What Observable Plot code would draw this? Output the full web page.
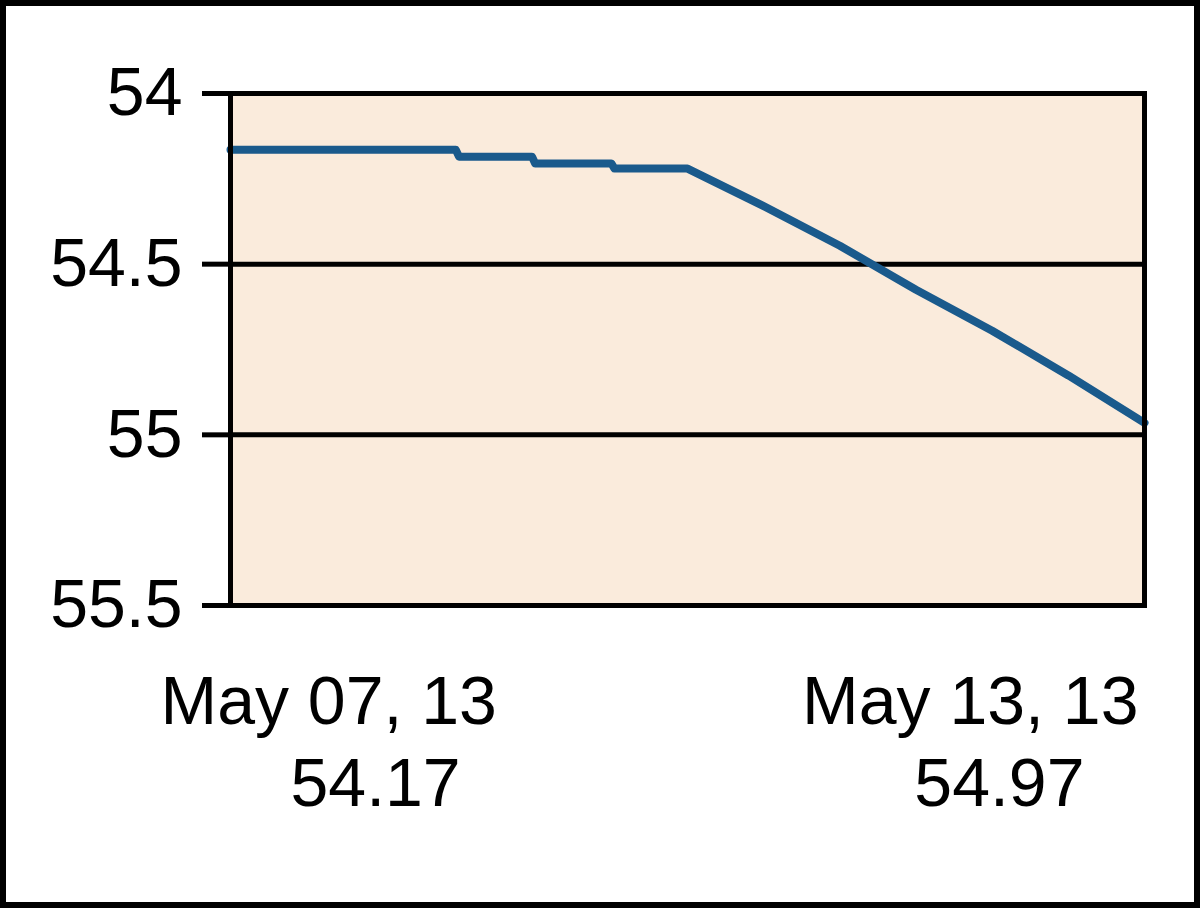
<!DOCTYPE html>
<html>
<head>
<meta charset="utf-8">
<script src="https://cdn.jsdelivr.net/npm/d3@7"></script>
<script src="https://cdn.jsdelivr.net/npm/@observablehq/plot@0.6"></script>
<style>
  html, body { margin: 0; padding: 0; background: #fff; }
  #wrap { position: relative; width: 1200px; height: 908px; overflow: hidden; }
  #border { position: absolute; inset: 0; border: 6px solid #000; box-sizing: border-box; pointer-events: none; }
</style>
</head>
<body>
<div id="wrap"><div id="chart"></div><div id="border"></div></div>
<script>
const yTicks = [54, 54.5, 55, 55.5];
const yTickLabels = ["54", "54.5", "55", "55.5"];
const dates = [
  "2013-05-07T00:00Z", "2013-05-08T11:30Z", "2013-05-08T12:00Z",
  "2013-05-08T23:30Z", "2013-05-09T00:00Z", "2013-05-09T12:00Z",
  "2013-05-09T12:30Z", "2013-05-10T00:00Z", "2013-05-10T12:00Z",
  "2013-05-11T00:00Z", "2013-05-11T12:00Z", "2013-05-12T00:00Z",
  "2013-05-12T12:00Z", "2013-05-13T00:00Z"
];
const values = [
  54.165, 54.165, 54.185,
  54.185, 54.205, 54.205,
  54.22, 54.22, 54.33,
  54.446, 54.575, 54.695,
  54.826, 54.965
];
const xDomain = ["2013-05-07T00:00Z", "2013-05-13T00:00Z"];
const startLabel = ["May 07, 13", "54.17"];
const endLabel = ["May 13, 13", "54.97"];

const data = dates.map((d, i) => ({date: new Date(d), value: values[i]}));
const first = [{date: new Date(xDomain[0]), line1: startLabel[0], line2: startLabel[1]}];
const last = [{date: new Date(xDomain[1]), line1: endLabel[0], line2: endLabel[1]}];

const chart = Plot.plot({
  width: 1200,
  height: 908,
  marginLeft: 230,
  marginRight: 56,
  marginTop: 93,
  marginBottom: 303,
  style: {fontFamily: "'Liberation Sans', Arial, sans-serif", fontSize: "68px", background: "transparent", color: "#000"},
  x: {type: "utc", domain: xDomain.map(d => new Date(d)), axis: null},
  y: {domain: [54, 55.5], reverse: true, axis: null},
  marks: [
    Plot.frame({fill: "#FAEBDC", stroke: null}),
    Plot.ruleY(yTicks, {stroke: "#000", strokeWidth: 5}),
    Plot.line(data, {x: "date", y: "value", stroke: "#1a5a8c", strokeWidth: 8}),
    Plot.frame({stroke: "#000", strokeWidth: 5}),
    Plot.axisY(yTicks, {
      label: null,
      tickFormat: d => yTickLabels[yTicks.indexOf(d)],
      tickSize: 28, tickPadding: 20, fontSize: 68,
      stroke: "#000", strokeWidth: 5, fill: "#000"
    }),
    Plot.text(first, {x: "date", text: "line1", frameAnchor: "bottom", textAnchor: "start", lineAnchor: "top", dx: -70, dy: 70, fontSize: 68, fill: "#000"}),
    Plot.text(first, {x: "date", text: "line2", frameAnchor: "bottom", textAnchor: "start", lineAnchor: "top", dx: 60, dy: 152, fontSize: 68, fill: "#000"}),
    Plot.text(last, {x: "date", text: "line1", frameAnchor: "bottom", textAnchor: "end", lineAnchor: "top", dx: -6, dy: 70, fontSize: 68, fill: "#000"}),
    Plot.text(last, {x: "date", text: "line2", frameAnchor: "bottom", textAnchor: "end", lineAnchor: "top", dx: -60, dy: 152, fontSize: 68, fill: "#000"})
  ]
});
document.getElementById("chart").appendChild(chart);
</script>
</body>
</html>
